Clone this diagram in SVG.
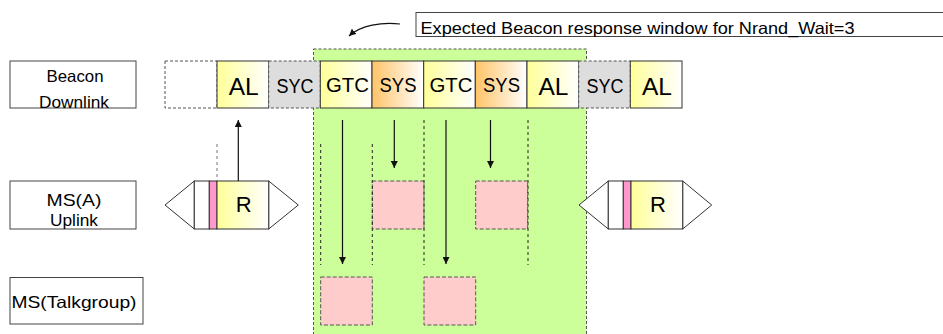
<svg xmlns="http://www.w3.org/2000/svg" width="943" height="334" viewBox="0 0 943 334">
<style>
text{font-family:"Liberation Sans",Arial,sans-serif;fill:#000;text-anchor:middle}
.lbl{font-size:16.5px}
.cell{stroke:#333;stroke-width:1}
.dcell{stroke:#555;stroke-width:1;stroke-dasharray:3,2}
.t{font-size:20px}
.al{font-size:24px}
.pink{fill:#ffcccc;stroke:#555;stroke-width:1;stroke-dasharray:4,2}
.dl{stroke:#222;stroke-width:1;stroke-dasharray:3,3;fill:none}
.ar{stroke:#111;stroke-width:1.2;fill:none;marker-end:url(#ah)}
.box{fill:#fff;stroke:#444;stroke-width:1}
.tri{fill:#fff;stroke:#333;stroke-width:1}
</style>
<defs>
<linearGradient id="gy" x1="0" y1="0" x2="1" y2="0"><stop offset="0" stop-color="#ffff99"/><stop offset="1" stop-color="#ffffff"/></linearGradient>
<linearGradient id="go" x1="0" y1="0" x2="1" y2="0"><stop offset="0" stop-color="#ffc466"/><stop offset="1" stop-color="#ffffff"/></linearGradient>
<marker id="ah" viewBox="0 0 10 10" refX="10" refY="5" markerWidth="7" markerHeight="7" markerUnits="userSpaceOnUse" orient="auto"><path d="M0,0 L10,5 L0,10 z" fill="#111"/></marker>
</defs>

<g id="window">
<rect x="313.5" y="49" width="273" height="300" fill="#ccff99" stroke="#555" stroke-width="1" stroke-dasharray="3,2"/>
</g>

<g id="caption">
<rect x="416" y="12.5" width="540" height="24" fill="#fff" stroke="#444" stroke-width="1"/>
<text x="420.5" y="33.5" style="font-size:16.5px;text-anchor:start" textLength="434" lengthAdjust="spacingAndGlyphs">Expected Beacon response window for Nrand_Wait=3</text>
</g>

<g id="label-beacon">
<rect class="box" x="10" y="61" width="126" height="47"/>
<text class="lbl" x="75" y="82" textLength="57" lengthAdjust="spacingAndGlyphs">Beacon</text>
<text class="lbl" x="74" y="108" textLength="70" lengthAdjust="spacingAndGlyphs">Downlink</text>
</g>
<g id="label-msa">
<rect class="box" x="10" y="181" width="126" height="48"/>
<text class="lbl" x="74" y="206" textLength="55" lengthAdjust="spacingAndGlyphs">MS(A)</text>
<text class="lbl" x="74" y="226" textLength="48" lengthAdjust="spacingAndGlyphs">Uplink</text>
</g>
<g id="label-mstg">
<rect class="box" x="10" y="277.5" width="133" height="46.5"/>
<text class="lbl" x="74" y="308" textLength="125" lengthAdjust="spacingAndGlyphs">MS(Talkgroup)</text>
</g>

<g id="beacon-row">
<rect class="dcell" x="165" y="61" width="52" height="47" fill="#fff"/>
<rect class="cell" x="217" y="61" width="51.7" height="47" fill="url(#gy)"/>
<text class="al" x="243.7" y="95" textLength="30" lengthAdjust="spacingAndGlyphs">AL</text>
<rect class="dcell" x="268.7" y="61" width="51.6" height="47" fill="#dddddd"/>
<text class="t" x="295" y="93" textLength="37" lengthAdjust="spacingAndGlyphs">SYC</text>
<rect class="cell" x="320.3" y="61" width="51.7" height="47" fill="url(#gy)"/>
<text class="t" x="347.5" y="92" textLength="43" lengthAdjust="spacingAndGlyphs">GTC</text>
<rect class="cell" x="372" y="61" width="51.7" height="47" fill="url(#go)"/>
<text class="t" x="398" y="92" textLength="37" lengthAdjust="spacingAndGlyphs">SYS</text>
<rect class="cell" x="423.7" y="61" width="51.6" height="47" fill="url(#gy)"/>
<text class="t" x="451" y="92" textLength="43" lengthAdjust="spacingAndGlyphs">GTC</text>
<rect class="cell" x="475.3" y="61" width="51.7" height="47" fill="url(#go)"/>
<text class="t" x="501.5" y="92" textLength="37" lengthAdjust="spacingAndGlyphs">SYS</text>
<rect class="cell" x="527" y="61" width="51.7" height="47" fill="url(#gy)"/>
<text class="al" x="553.5" y="95" textLength="30" lengthAdjust="spacingAndGlyphs">AL</text>
<rect class="dcell" x="578.7" y="61" width="51.6" height="47" fill="#dddddd"/>
<text class="t" x="605" y="93" textLength="37" lengthAdjust="spacingAndGlyphs">SYC</text>
<rect class="cell" x="630.3" y="61" width="51.7" height="47" fill="url(#gy)"/>
<text class="al" x="657" y="95" textLength="30" lengthAdjust="spacingAndGlyphs">AL</text>
</g>

<g id="msa-slot-1">
<polygon class="tri" points="194.3,181 165,205 194.3,229"/>
<polygon class="tri" points="268.7,181 298.3,205 268.7,229"/>
<rect class="cell" x="194.3" y="181" width="15" height="48" fill="#fff"/>
<rect class="cell" x="209.3" y="181" width="7.7" height="48" fill="#ff99cc"/>
<rect class="cell" x="217" y="181" width="51.7" height="48" fill="url(#gy)"/>
<text class="al" x="243.7" y="212" style="font-size:22px">R</text>
</g>

<g id="msa-slot-2">
<polygon class="tri" points="608.3,181 579,205 608.3,229"/>
<polygon class="tri" points="682.7,181 711.7,205 682.7,229"/>
<rect class="cell" x="608.3" y="181" width="15" height="48" fill="#fff"/>
<rect class="cell" x="623.3" y="181" width="7.7" height="48" fill="#ff99cc"/>
<rect class="cell" x="631" y="181" width="51.7" height="48" fill="url(#gy)"/>
<text class="al" x="658" y="212" style="font-size:22px">R</text>
</g>

<g id="slot-a1"><rect class="pink" x="372.3" y="181" width="51.7" height="48"/></g>
<g id="slot-a2"><rect class="pink" x="475.7" y="181" width="52" height="48"/></g>
<g id="slot-t1"><rect class="pink" x="320.7" y="277" width="51.6" height="48"/></g>
<g id="slot-t2"><rect class="pink" x="424" y="277" width="51.7" height="48"/></g>

<g id="connectors">
<line class="dl" x1="217" y1="144" x2="217" y2="181" style="stroke:#777"/>
<line class="dl" x1="320.7" y1="144" x2="320.7" y2="265"/>
<line class="dl" x1="372.3" y1="144" x2="372.3" y2="265"/>
<line class="dl" x1="424" y1="120" x2="424" y2="265"/>
<line class="dl" x1="528" y1="120" x2="528" y2="265"/>
<line class="ar" x1="238.3" y1="181" x2="238.3" y2="120"/>
<line class="ar" x1="342.5" y1="120" x2="342.5" y2="264"/>
<line class="ar" x1="394.3" y1="120" x2="394.3" y2="168"/>
<line class="ar" x1="446" y1="120" x2="446" y2="264"/>
<line class="ar" x1="490.5" y1="120" x2="490.5" y2="168"/>
<path class="ar" d="M400,24 C382,22 361,25 349,36"/>
</g>
</svg>
